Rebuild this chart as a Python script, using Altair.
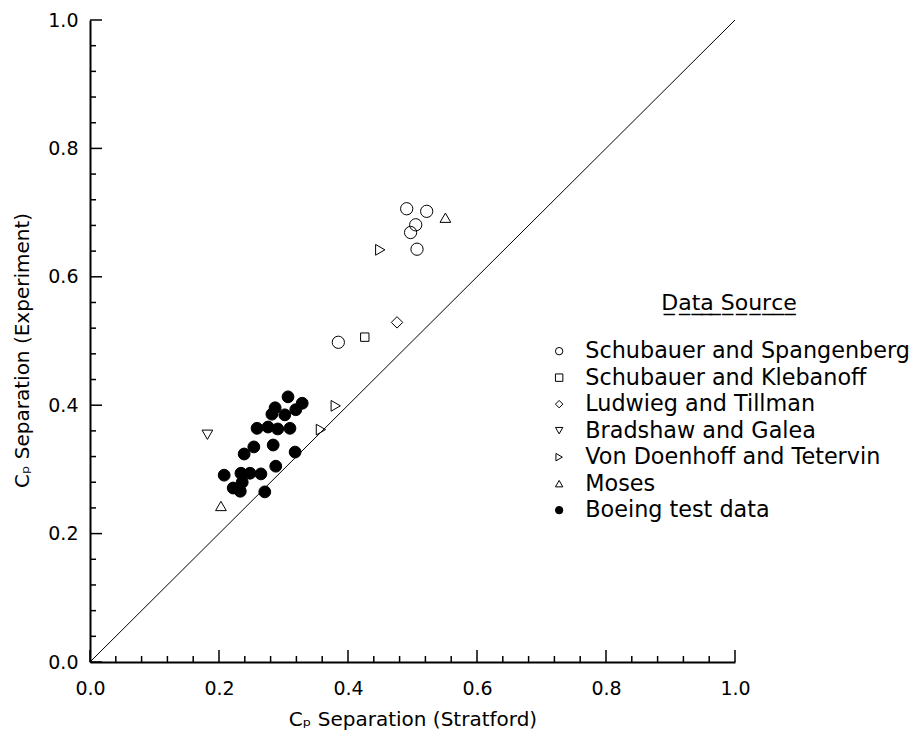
import altair as alt
import pandas as pd

# ---- data: pressure coefficient at separation, Stratford prediction vs. experiment ----
sources = [
    "Schubauer and Spangenberg",
    "Schubauer and Klebanoff",
    "Ludwieg and Tillman",
    "Bradshaw and Galea",
    "Von Doenhoff and Tetervin",
    "Moses",
    "Boeing test data",
]
shapes = ["circle", "square", "diamond", "triangle-down", "triangle-right", "triangle-up", "circle"]
fills = ["transparent", "transparent", "transparent", "transparent", "transparent", "transparent", "black"]
strokes = ["black", "black", "black", "black", "black", "black", "black"]

spangenberg_x = [0.491, 0.522, 0.505, 0.497, 0.507, 0.385]
spangenberg_y = [0.706, 0.702, 0.681, 0.669, 0.643, 0.498]
klebanoff_x = [0.426]
klebanoff_y = [0.506]
ludwieg_x = [0.476]
ludwieg_y = [0.529]
bradshaw_x = [0.182]
bradshaw_y = [0.354]
doenhoff_x = [0.450, 0.381, 0.358]
doenhoff_y = [0.642, 0.399, 0.362]
moses_x = [0.551, 0.203]
moses_y = [0.692, 0.243]
boeing_x = [0.307, 0.329, 0.287, 0.319, 0.282, 0.302, 0.259, 0.276, 0.291, 0.310,
            0.254, 0.284, 0.239, 0.318, 0.208, 0.234, 0.248, 0.265, 0.288, 0.236,
            0.222, 0.233, 0.271]
boeing_y = [0.413, 0.403, 0.396, 0.393, 0.386, 0.385, 0.364, 0.366, 0.363, 0.364,
            0.335, 0.338, 0.324, 0.327, 0.291, 0.294, 0.294, 0.293, 0.305, 0.280,
            0.271, 0.266, 0.265]

diag_x = [0.0, 1.0]
diag_y = [0.0, 1.0]

major_ticks = [0.0, 0.2, 0.4, 0.6, 0.8, 1.0]
minor_ticks = [0.04, 0.08, 0.12, 0.16, 0.24, 0.28, 0.32, 0.36, 0.44, 0.48, 0.52, 0.56,
               0.64, 0.68, 0.72, 0.76, 0.84, 0.88, 0.92, 0.96]

# ---- tables ----
series = [
    (sources[0], spangenberg_x, spangenberg_y),
    (sources[1], klebanoff_x, klebanoff_y),
    (sources[2], ludwieg_x, ludwieg_y),
    (sources[3], bradshaw_x, bradshaw_y),
    (sources[4], doenhoff_x, doenhoff_y),
    (sources[5], moses_x, moses_y),
    (sources[6], boeing_x, boeing_y),
]
point_rows = [{"x": xv, "y": yv, "source": name}
              for name, xs, ys in series for xv, yv in zip(xs, ys)]
points_df = pd.DataFrame(point_rows)
diag_df = pd.DataFrame({"x": diag_x, "y": diag_y})
major_df = pd.DataFrame({"v": major_ticks})
minor_df = pd.DataFrame({"v": minor_ticks})

W, H = 645, 642
FONT = "DejaVu Sans"
scale_x = alt.Scale(domain=[0, 1], nice=False, zero=False)
scale_y = alt.Scale(domain=[0, 1], nice=False, zero=False)

# underlined legend heading (combining low line after every character)
underline = "\u0332"
legend_title = "".join(ch + underline for ch in "Data Source")

legend = alt.Legend(
    title=legend_title,
    orient="none",
    legendX=458,
    legendY=273,
    titleAnchor="middle",
    titleAlign="center",
    titleFont=FONT,
    titleFontSize=22,
    titleFontWeight="normal",
    titleColor="black",
    titlePadding=25,
    labelFont=FONT,
    labelFontSize=22.3,
    labelColor="black",
    labelOffset=15,
    labelLimit=400,
    symbolSize=55,
    symbolStrokeWidth=1,
    symbolOpacity=1,
    rowPadding=3.5,
)

# main axes: domain lines, labels and titles (tick marks are drawn as inward marks below)
axis_x_main = alt.Axis(
    orient="bottom", values=major_ticks, format=".1f", grid=False, ticks=False, tickSize=0,
    labelFlush=False, domainColor="black", domainWidth=2, labelFont=FONT, labelFontSize=19,
    labelColor="black", labelPadding=17, title="C\u209a Separation (Stratford)", titleFont=FONT,
    titleFontSize=20, titleFontWeight="normal", titleColor="black", titlePadding=11,
)
axis_y_main = alt.Axis(
    orient="left", values=major_ticks, format=".1f", grid=False, ticks=False, tickSize=0,
    labelFlush=False, domainColor="black", domainWidth=2, labelFont=FONT, labelFontSize=19,
    labelColor="black", labelPadding=12, title="C\u209a Separation (Experiment)", titleFont=FONT,
    titleFontSize=20, titleFontWeight="normal", titleColor="black", titlePadding=15,
    titleY=330,
)

diagonal = alt.Chart(diag_df).mark_line(color="black", strokeWidth=1).encode(
    x=alt.X("x:Q", scale=scale_x, axis=axis_x_main),
    y=alt.Y("y:Q", scale=scale_y, axis=axis_y_main),
)

# symbol area per source (square drawn smaller, as in the original plotting style)
marker_size = {
    "condition": [
        {"test": "datum.source === 'Schubauer and Klebanoff'", "value": 70},
        {"test": "datum.source === 'Ludwieg and Tillman'", "value": 130},
        {"test": "datum.source === 'Boeing test data'", "value": 140},
        {"test": "indexof(['Bradshaw and Galea', 'Von Doenhoff and Tetervin', 'Moses'], datum.source) >= 0",
         "value": 115},
    ],
    "value": 150,
}

points = alt.Chart(points_df).mark_point(strokeWidth=1, opacity=1).encode(
    x=alt.X("x:Q", scale=scale_x),
    y=alt.Y("y:Q", scale=scale_y),
    shape=alt.Shape("source:N", scale=alt.Scale(domain=sources, range=shapes), legend=legend),
    fill=alt.Fill("source:N", scale=alt.Scale(domain=sources, range=fills), legend=legend),
    stroke=alt.Stroke("source:N", scale=alt.Scale(domain=sources, range=strokes), legend=legend),
    size=marker_size,
)


def x_ticks(df, length):
    # vertical tick marks standing on the bottom edge, pointing into the plot
    return alt.Chart(df).mark_tick(
        orient="vertical", size=length, thickness=1.5, color="black", opacity=1, yOffset=-length / 2
    ).encode(
        x=alt.X("v:Q", scale=scale_x),
        y=alt.YDatum(0, scale=scale_y),
    )


def y_ticks(df, length):
    # horizontal tick marks standing on the left edge, pointing into the plot
    return alt.Chart(df).mark_tick(
        orient="horizontal", size=length, thickness=1.5, color="black", opacity=1, xOffset=length / 2
    ).encode(
        y=alt.Y("v:Q", scale=scale_y),
        x=alt.XDatum(0, scale=scale_x),
    )


chart = (
    alt.layer(
        diagonal,
        x_ticks(minor_df, 6), x_ticks(major_df, 12),
        y_ticks(minor_df, 6), y_ticks(major_df, 12),
        points,
    )
    .properties(
        width=W,
        height=H,
        padding={"left": 90, "top": 20, "right": 914 - 90 - W, "bottom": 745 - 20 - H},
        autosize="none",
        background="white",
    )
    .configure_view(stroke=None)
)

chart.save("out.html", embed_options={"renderer": "svg", "actions": False})
